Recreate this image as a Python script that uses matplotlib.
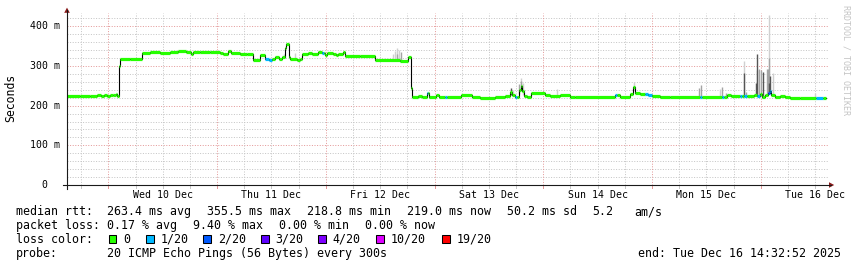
import matplotlib
matplotlib.use("Agg")
import matplotlib.pyplot as plt
from matplotlib.patches import Rectangle, Polygon
from matplotlib.lines import Line2D
from matplotlib.transforms import Affine2D, blended_transform_factory as btf

# ---------------- data (time in hours since Tue 9 Dec 2025 00:00, rtt in ms) ----------------
median_t = [14.9, 17.75, 20.0, 21.5, 22.4, 23.05, 23.7, 24.4, 25.0, 25.7,
            25.9, 26.3, 26.5, 28.8, 31.4, 33.2, 35.4, 37.6, 39.4, 41.15,
            42.25, 42.7, 44.24, 46.45, 48.66, 49.32, 50.42, 51.08, 53.07, 54.6,
            55.94, 57.48, 58.59, 59.47, 60.13, 60.8, 61.68, 62.34, 63.0, 63.22,
            63.95, 64.11, 65.65, 66.31, 66.76, 68.08, 68.96, 70.29, 71.17, 71.5,
            71.83, 72.27, 73.6, 74.26, 74.7, 75.8, 76.25, 79.56, 82.87, 88.39,
            90.15, 90.82, 91.04, 92.36, 93.24, 94.35, 94.6, 94.79, 96.33, 96.99,
            98.32, 98.7, 101.85, 104.28, 106.05, 109.36, 111.56, 112.67, 113.11, 113.77,
            114.2, 114.66, 114.99, 115.32, 115.76, 116.42, 117.3, 120.39, 121.5, 123.7,
            125.9, 127.01, 135.85, 136.3, 136.95, 139.16, 139.82, 140.26, 141.36, 142.47,
            143.13, 144.01, 145.78, 147.99, 154.6, 155.05, 159.46, 159.9, 160.57, 161.45,
            163.43, 163.9, 164.4, 164.9, 166.52, 167.19, 167.85, 168.29, 168.95, 169.62,
            170.06, 170.28, 171.16, 172.26, 173.37, 174.47, 176.68, 180.2, 181.7]
median_ms = [225, 224, 225, 227, 224, 228, 225, 228, 226, 229,
             225, 300, 318, 317, 333, 334, 333, 334, 337, 334,
             330, 334, 335, 334, 333, 331, 337, 332, 331, 330,
             314, 327, 318, 314, 317, 323, 318, 322, 345, 355,
             323, 318, 314, 318, 331, 333, 331, 336, 332, 332,
             328, 332, 331, 327, 330, 334, 326, 325, 314, 313,
             322, 244, 223, 225, 221, 231, 231, 222, 228, 222,
             221, 221, 228, 221, 220, 221, 224, 235, 228, 222,
             222, 240, 250, 238, 225, 222, 231, 227, 225, 226,
             223, 221, 226, 226, 222, 230, 248, 231, 229, 230,
             226, 225, 222, 221, 221, 221, 223, 221, 227, 225,
             224, 224, 224, 225, 226, 224, 230, 222, 226, 233,
             238, 226, 222, 224, 221, 220, 219, 219, 219]
median_loss = [0, 0, 0, 0, 0, 0, 0, 0, 0, 0,
               0, 0, 0, 0, 0, 0, 0, 0, 0, 0,
               0, 0, 0, 0, 0, 0, 0, 0, 0, 0,
               0, 0, 1, 1, 0, 0, 0, 0, 0, 0,
               0, 0, 0, 0, 0, 0, 0, 0, 1, 0,
               0, 0, 0, 0, 0, 0, 0, 0, 0, 0,
               0, 0, 0, 0, 0, 1, 0, 0, 0, 0,
               1, 0, 0, 0, 0, 0, 0, 0, 0, 1,
               0, 0, 0, 0, 0, 0, 0, 0, 0, 0,
               0, 0, 1, 0, 0, 0, 0, 0, 0, 1,
               1, 0, 0, 0, 1, 0, 1, 0, 0, 0,
               1, 0, 1, 0, 0, 1, 0, 0, 0, 2,
               1, 0, 0, 0, 0, 0, 0, 1, 0]
end_t = 182.4

# smoke (spread of the 20 pings): time, low, high, shade level (0 light, 1 mid, 2 dark)
smoke_t = [62.78, 65.21, 86.84, 87.28, 87.72, 87.72, 88.17, 88.61, 112.78, 113.33,
           114.65, 115.10, 115.10, 115.54, 122.98, 139.93, 154.38, 154.72, 159.02, 159.40,
           160.35, 164.32, 164.32, 164.76, 166.90, 167.26, 167.26, 167.63, 167.96, 168.58,
           169.33, 169.62, 169.90, 169.90, 169.90, 170.13, 170.66, 180.09]
smoke_lo = [320, 318, 314, 314, 314, 314, 314, 314, 228, 225,
            230, 240, 240, 228, 225, 240, 221, 221, 221, 221,
            223, 224, 224, 224, 226, 226, 226, 226, 226, 222,
            226, 233, 233, 233, 233, 238, 226, 219]
smoke_hi = [330, 332, 330, 338, 345, 330, 340, 335, 245, 240,
            255, 269, 262, 258, 242, 260, 245, 252, 241, 248,
            233, 313, 282, 234, 256, 290, 330, 292, 290, 286,
            292, 292, 428, 321, 256, 275, 283, 232]
smoke_level = [0, 0, 0, 0, 0, 1, 0, 1, 2, 0,
               1, 0, 1, 0, 0, 0, 1, 1, 0, 1,
               1, 0, 2, 1, 2, 1, 2, 1, 1, 2,
               1, 1, 0, 1, 2, 2, 0, 0]

day_label_t = [36, 60, 84, 108, 132, 156, 180]
day_labels = ["Wed 10 Dec", "Thu 11 Dec", "Fri 12 Dec", "Sat 13 Dec",
              "Sun 14 Dec", "Mon 15 Dec", "Tue 16 Dec"]
y_ticks = [0, 100, 200, 300, 400]
y_labels = ["0", "100 m", "200 m", "300 m", "400 m"]

loss_names = ["0", "1/20", "2/20", "3/20", "4/20", "10/20", "19/20"]
loss_colors = ["#26ff00", "#00b8ff", "#0059ff", "#5e00ff", "#7e00ff", "#dd00ff", "#ff0000"]
rtt_items = ["263.4 ms avg", "355.5 ms max", "218.8 ms min", "219.0 ms now", "50.2 ms sd",
             "5.2", "am/s"]
loss_items = ["0.17 % avg", "9.40 % max", "0.00 % min", "0.00 % now"]
probe_text = "20 ICMP Echo Pings (56 Bytes) every 300s"
end_text = "end: Tue Dec 16 14:32:52 2025"

# ---------------- figure ----------------
W, H = 857, 267
MONO = "DejaVu Sans Mono"
fig = plt.figure(figsize=(W / 100, H / 100), dpi=100)
fig.patch.set_facecolor("white")
pix = Affine2D().scale(1 / W, -1 / H).translate(0, 1) + fig.transFigure

L, R, B, T = 67, 828, 185, 13.3
ax = fig.add_axes([L / W, (H - B) / H, (R - L) / W, (B - T) / H])
xmin, xmax = 14.88, 182.85
ymax = 432.8
ax.set_xlim(xmin, xmax)
ax.set_ylim(0, ymax)
for s in ax.spines.values():
    s.set_visible(False)
ax.set_xticks([])
ax.set_yticks([])
ax.patch.set_visible(False)

grid_minor = "#c6c6c6"
grid_major = "#e49a9a"
dot = (0, (1, 1.6))

# horizontal grid
for v in range(20, 440, 20):
    major = v % 100 == 0
    ax.add_line(Line2D([xmin, xmax], [v, v], color=grid_major if major else grid_minor,
                       lw=0.72, ls=dot, zorder=0))
# vertical grid (every 6 h, major at midnight) with small ticks under the axis
yb = btf(ax.transData, ax.transAxes)
h = 18
while h < xmax:
    major = h % 24 == 0
    col = grid_major if major else grid_minor
    ax.add_line(Line2D([h, h], [0, 1], transform=yb, color=col, lw=0.72, ls=dot, zorder=0,
                       clip_on=False))
    ax.add_line(Line2D([h, h], [0, -3 / (B - T)], transform=yb, color=col, lw=0.72, zorder=0,
                       clip_on=False))
    h += 6

# smoke
shade_colors = ["#d0d0d0", "#a4a4a4", "#555555"]
for lvl in range(3):
    idx = [i for i in range(len(smoke_t)) if smoke_level[i] == lvl]
    ax.vlines([smoke_t[i] for i in idx], [smoke_lo[i] for i in idx], [smoke_hi[i] for i in idx],
              colors=shade_colors[lvl], lw=1.0, zorder=2)

# median line: black connecting step + loss coloured segments
edges = median_t + [end_t]
xs, ys = [], []
for i, v in enumerate(median_ms):
    xs += [edges[i], edges[i + 1]]
    ys += [v, v]
ax.plot(xs, ys, color="#000000", lw=0.8, zorder=3, solid_joinstyle="miter")
ax.hlines(median_ms, edges[:-1], edges[1:], colors=[loss_colors[l] for l in median_loss],
          lw=2.3, zorder=4)

# axes lines with arrows
axis_col = "#1a1a1a"
arrow_col = "#8b1a1a"
fig.add_artist(Line2D([67, 67], [189, 10], transform=pix, color=axis_col, lw=0.8))
fig.add_artist(Line2D([63, 831], [185, 185], transform=pix, color=axis_col, lw=0.8))
fig.add_artist(Polygon([(64.2, 12.8), (69.8, 12.8), (67, 7.6)], closed=True, transform=pix,
                       color=arrow_col, lw=0))
fig.add_artist(Polygon([(829, 182.2), (829, 187.8), (834.2, 185)], closed=True, transform=pix,
                       color=arrow_col, lw=0))

# y labels
ylab_tr = btf(pix, ax.transData)
for v, lab in zip(y_ticks, y_labels):
    xr = 60.5 if lab.endswith("m") else 47.5
    ax.text(xr, v, lab, transform=ylab_tr, ha="right", va="center", family=MONO, size=7.1,
            color="#000000", clip_on=False)
# x labels
xlab_tr = btf(ax.transData, pix)
for t, lab in zip(day_label_t, day_labels):
    ax.text(t, 195, lab, transform=xlab_tr, ha="center", va="center", family=MONO, size=7.1,
            color="#000000", clip_on=False)

fig.text(11, 98, "Seconds", transform=pix, rotation=90, ha="center", va="center",
         family=MONO, size=8.3)
fig.text(846.5, 60, "RRDTOOL / TOBI OETIKER", transform=pix, rotation=270, ha="center",
         va="center", family=MONO, size=6.0, color="#c4c4c4")

# legend
FS = 8.4
def ltxt(x, y, s, ha="left"):
    fig.text(x, y, s, transform=pix, ha=ha, va="center", family=MONO, size=FS)

ltxt(16, 211.7, "median rtt:")
for x, s in zip([107.3, 207.3, 307.3, 407.3, 507.3, 592.7, 634.3], rtt_items):
    ltxt(x, 211.7, s)
ltxt(16, 225.3, "packet loss:")
for x, s in zip([107.3, 193.3, 279.3, 365.5], loss_items):
    ltxt(x, 225.3, s)
ltxt(16, 239.3, "loss color:")
box_x = [108.7, 146, 203.3, 261, 318.3, 376, 442.3]
for bx, name, col in zip(box_x, loss_names, loss_colors):
    fig.add_artist(Rectangle((bx, 243.2), 7.6, -8.6, transform=pix, facecolor=col,
                             edgecolor="#000000", lw=0.75))
    ltxt(bx + 14.5, 239.3, name)
ltxt(16, 253.3, "probe:")
ltxt(107.3, 253.3, probe_text)
ltxt(841, 253.3, end_text, ha="right")

fig.savefig("out.png", dpi=100, facecolor="white")
